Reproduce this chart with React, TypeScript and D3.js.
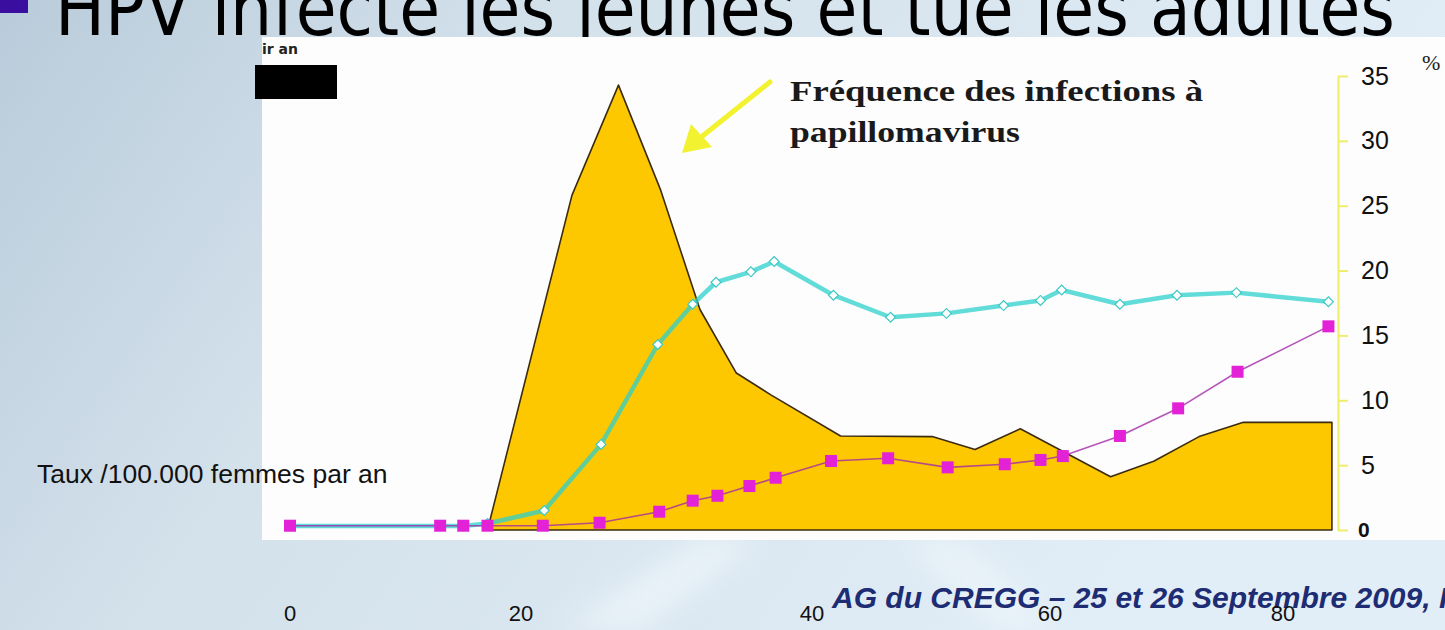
import { useEffect, useRef } from "react";
import * as d3 from "d3";

const W = 1445, H = 630;

// x tick labels (age) and right axis ticks (%)
const ageTicks = [0, 20, 40, 60, 80];
const pctTicks = [0, 5, 10, 15, 20, 25, 30, 35];

// Fréquence des infections à papillomavirus (%)
const hpvAges = [17.1, 23.5, 26.7, 29.6, 32.3, 34.8, 37.2, 42.4, 50.1, 53.7, 57.5, 65.2, 68.9, 72.8, 76.6, 84.2];
const hpvPct = [0, 25.8, 34.3, 26.2, 17.0, 12.1, 10.4, 7.25, 7.2, 6.2, 7.8, 4.1, 5.3, 7.2, 8.3, 8.3];

// incidence, taux /100.000 femmes par an (cyan)
const incAges = [0, 13, 15, 17.1, 21.6, 25.5, 29.4, 31.8, 33.4, 35.8, 37.4, 41.8, 46.6, 51.3, 56.1, 59.2, 61.0, 66.0, 70.9, 76.0, 83.9];
const incVals = [0.3, 0.3, 0.3, 0.5, 1.5, 6.6, 14.3, 17.4, 19.1, 19.9, 20.7, 18.1, 16.4, 16.7, 17.3, 17.7, 18.5, 17.4, 18.1, 18.3, 17.6];

// mortalité, taux /100.000 femmes par an (magenta)
const mortAges = [0, 13, 15, 17.1, 21.5, 25.4, 29.5, 31.8, 33.5, 35.7, 37.5, 41.6, 46.4, 51.4, 56.2, 59.2, 61.1, 66.0, 71.0, 76.1, 83.9];
const mortVals = [0.33, 0.33, 0.33, 0.33, 0.33, 0.56, 1.41, 2.26, 2.64, 3.39, 4.03, 5.32, 5.53, 4.83, 5.07, 5.4, 5.7, 7.25, 9.38, 12.2, 15.7];

const title = "HPV infecte les jeunes et tue les adultes";
const yLabel = "Taux /100.000 femmes par an";
const footer = "AG du CREGG – 25 et 26 Septembre 2009, Paris";

const App = () => {
  const ref = useRef<SVGSVGElement>(null);

  useEffect(() => {
    document.body.style.margin = "0";
    const svg = d3.select(ref.current);
    svg.selectAll("*").remove();

    const x = d3.scaleLinear().domain(ageTicks).range([290, 521, 812, 1050, 1283]);
    const y = d3.scaleLinear().domain([0, 35]).range([530, 76]);

    // background of the slide
    const defs = svg.append("defs");
    const bg = defs.append("linearGradient").attr("id", "bg").attr("x1", 0).attr("x2", 1).attr("y1", 0).attr("y2", 0.3);
    bg.append("stop").attr("offset", 0).attr("stop-color", "#b9cbda");
    bg.append("stop").attr("offset", 0.35).attr("stop-color", "#d3e1eb");
    bg.append("stop").attr("offset", 1).attr("stop-color", "#e2eef7");
    const blur = defs.append("filter").attr("id", "blur").attr("x", -0.5).attr("y", -0.5).attr("width", 2).attr("height", 2);
    blur.append("feGaussianBlur").attr("stdDeviation", 14);

    svg.append("rect").attr("width", W).attr("height", H).attr("fill", "url(#bg)");
    svg.append("path")
      .attr("d", "M560,630 L700,540 L760,540 L640,630 Z")
      .attr("fill", "#f0f7fc").attr("opacity", 0.7).attr("filter", "url(#blur)");
    svg.append("path")
      .attr("d", "M900,540 L1000,630 L1060,630 L960,540 Z")
      .attr("fill", "#f0f7fc").attr("opacity", 0.6).attr("filter", "url(#blur)");

    // title (cut at the top)
    svg.append("rect").attr("x", 0).attr("y", 0).attr("width", 28).attr("height", 13).attr("fill", "#3a0fa0");
    svg.append("text")
      .attr("x", 55).attr("y", 35)
      .attr("textLength", 1340).attr("lengthAdjust", "spacingAndGlyphs")
      .style("font-family", "'DejaVu Sans', sans-serif").style("font-size", "74px")
      .attr("fill", "#000").text(title);

    // white chart panel
    svg.append("rect").attr("x", 262).attr("y", 37).attr("width", W - 262).attr("height", 503).attr("fill", "#fdfdfd");

    svg.append("text").attr("x", 262).attr("y", 54)
      .style("font-family", "'DejaVu Sans', sans-serif").style("font-size", "14px").style("font-weight", "bold")
      .attr("fill", "#222").text("ir an");
    svg.append("rect").attr("x", 255).attr("y", 65).attr("width", 82).attr("height", 34).attr("fill", "#000");

    // HPV infection frequency area
    const area = d3.area<number>()
      .x((d, i) => x(hpvAges[i]))
      .y0(y(0))
      .y1(d => y(d));
    svg.append("path")
      .attr("d", area(hpvPct))
      .attr("fill", "#fec800")
      .attr("stroke", "#3b2c10").attr("stroke-width", 1.6).attr("stroke-linejoin", "round");

    // right axis
    const axis = svg.append("g")
      .attr("transform", "translate(1338,0)")
      .call(d3.axisRight(y).tickValues(pctTicks).tickSize(10).tickSizeOuter(0).tickPadding(13));
    axis.select(".domain").attr("stroke", "#eeee6a").attr("stroke-width", 2);
    axis.selectAll(".tick line").attr("stroke", "#eeee6a").attr("stroke-width", 2);
    axis.selectAll(".tick text")
      .style("font-family", "'Liberation Sans', Arial, sans-serif").style("font-size", "25px")
      .attr("fill", "#111");
    axis.selectAll<SVGTextElement, number>(".tick text")
      .filter(d => d === 0)
      .style("font-size", "21px").style("font-weight", "bold").attr("dx", -3);
    svg.append("text").attr("x", 1422).attr("y", 70)
      .style("font-family", "'Liberation Serif', serif").style("font-size", "22px")
      .attr("fill", "#222").text("%");

    // incidence line
    const incLine = d3.line<number>().x((d, i) => x(incAges[i])).y(d => y(d));
    svg.append("path")
      .attr("d", incLine(incVals))
      .attr("fill", "none").attr("stroke", "#2cd0cc").attr("stroke-opacity", 0.75)
      .attr("stroke-width", 4.5).attr("stroke-linejoin", "round");
    svg.append("g").selectAll("path")
      .data(incVals)
      .join("path")
      .attr("d", d3.symbol(d3.symbolSquare, 48)())
      .attr("transform", (d, i) => `translate(${x(incAges[i])},${y(d)}) rotate(45)`)
      .attr("fill", "#fff").attr("stroke", "#3cc8c4").attr("stroke-width", 1.2);

    // mortality line
    const mortLine = d3.line<number>().x((d, i) => x(mortAges[i])).y(d => y(d));
    svg.append("path")
      .attr("d", mortLine(mortVals))
      .attr("fill", "none").attr("stroke", "#a42aa8").attr("stroke-opacity", 0.8).attr("stroke-width", 1.6);
    svg.append("g").selectAll("rect")
      .data(mortVals)
      .join("rect")
      .attr("x", (d, i) => x(mortAges[i]) - 6)
      .attr("y", d => y(d) - 6)
      .attr("width", 12).attr("height", 12)
      .attr("fill", "#e322d8");

    // annotation
    const note = svg.append("g")
      .style("font-family", "'Liberation Serif', 'Times New Roman', serif")
      .style("font-size", "30px").style("font-weight", "bold").attr("fill", "#1a1a1a");
    note.append("text").attr("x", 790).attr("y", 101)
      .attr("textLength", 413).attr("lengthAdjust", "spacingAndGlyphs").text("Fréquence des infections à");
    note.append("text").attr("x", 790).attr("y", 142)
      .attr("textLength", 230).attr("lengthAdjust", "spacingAndGlyphs").text("papillomavirus");

    svg.append("line").attr("x1", 770).attr("y1", 82).attr("x2", 700).attr("y2", 138)
      .attr("stroke", "#f2f230").attr("stroke-width", 5).attr("stroke-linecap", "round");
    svg.append("path").attr("d", "M682,153 L691,124 L712,147 Z").attr("fill", "#f2f230");

    // overlaid labels
    svg.append("text").attr("x", 37).attr("y", 483)
      .style("font-family", "'Liberation Sans', Arial, sans-serif").style("font-size", "26.5px")
      .attr("fill", "#111").text(yLabel);

    svg.append("text").attr("x", 832).attr("y", 608)
      .style("font-family", "'Liberation Sans', Arial, sans-serif").style("font-size", "30px")
      .style("font-style", "italic").style("font-weight", "bold")
      .attr("fill", "#1d2c73").text(footer);

    svg.append("g").selectAll("text")
      .data(ageTicks)
      .join("text")
      .attr("x", d => x(d)).attr("y", 621)
      .attr("text-anchor", "middle")
      .style("font-family", "'Liberation Sans', Arial, sans-serif").style("font-size", "22px")
      .attr("fill", "#111").text(d => d);
  }, []);

  return <svg ref={ref} width={W} height={H} style={{ display: "block", position: "absolute", left: 0, top: 0 }} />;
};

export default App;
